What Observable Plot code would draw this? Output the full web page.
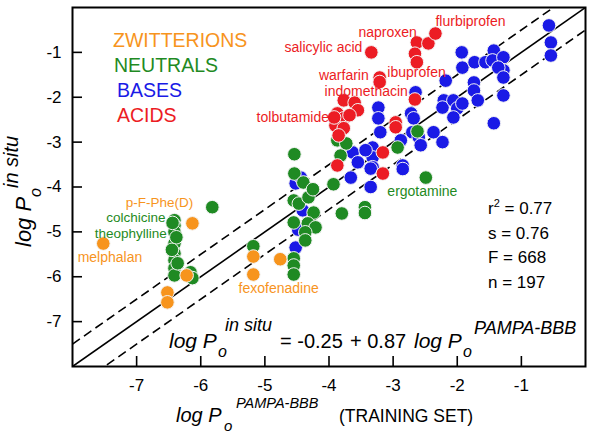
<!DOCTYPE html>
<html>
<head>
<meta charset="utf-8">
<script src="https://cdn.jsdelivr.net/npm/d3@7"></script>
<script src="https://cdn.jsdelivr.net/npm/@observablehq/plot@0.6"></script>
<style>
  html, body { margin: 0; padding: 0; background: #fff; }
</style>
</head>
<body>
<div id="chart"></div>
<script>
const FONT = "'Liberation Sans', Arial, Helvetica, sans-serif";

// ---- data (log Po PAMPA-BBB, log Po in situ) ----
const zwitterX = [-7.52, -6.13, -6.22, -6.52, -6.52, -5.18, -5.18, -4.76];
const zwitterY = [-5.26, -4.81, -5.97, -6.35, -6.57, -5.55, -5.95, -5.61];

const neutralX = [-6.41, -6.41, -6.41, -6.41, -6.41, -6.41, -6.41, -6.41, -6.38, -6.45, -6.36, -6.44,
  -6.16, -6.13, -5.82, -5.18,
  -4.54, -4.54, -4.55, -4.47, -4.32, -4.24, -4.55, -4.33, -4.21, -4.37, -4.37, -4.55, -4.55, -4.55, -4.40, -4.25,
  -3.93, -3.80, -3.44, -3.44, -3.87, -3.73, -3.82, -2.62, -2.93, -2.49];
const neutralY = [-4.74, -4.86, -5.00, -5.26, -5.48, -5.63, -5.81, -5.97, -5.12, -5.40, -5.70, -4.80,
  -5.90, -6.03, -4.45, -5.32,
  -3.27, -3.70, -4.30, -4.37, -4.23, -4.57, -4.79, -4.81, -4.90, -5.01, -5.19, -5.59, -5.75, -5.95, -3.90, -4.05,
  -3.94, -4.59, -4.45, -4.58, -2.96, -3.03, -3.30, -2.76, -3.12, -3.79];

const baseX = [-0.57, -0.54, -0.54, -1.93, -1.92, -1.73, -1.56, -1.43, -1.45, -1.28, -1.28, -1.36, -1.28,
  -2.18, -1.74, -1.74, -1.68, -1.28, -1.43, -2.65, -3.23, -3.23, -3.20, -2.72, -2.68, -2.70, -2.60, -2.57,
  -2.37, -2.23, -2.21, -2.23, -2.06, -2.00, -2.06, -1.92, -2.88, -3.32, -3.32, -3.32, -3.63, -3.43, -2.85,
  -2.85, -3.66, -3.35, -3.35, -4.52, -4.41, -4.52, -4.44, -4.48, -3.55];
const baseY = [-0.40, -0.78, -1.07, -1.00, -1.34, -1.22, -1.22, -0.96, -1.18, -1.11, -1.40, -1.34, -1.56,
  -1.63, -1.67, -1.85, -2.07, -1.96, -2.58, -1.89, -2.23, -2.47, -2.78, -2.36, -2.47, -2.78, -2.89, -3.07,
  -2.78, -3.00, -2.07, -2.23, -2.07, -2.25, -2.45, -2.14, -2.96, -3.12, -3.34, -3.56, -3.23, -3.18, -3.52,
  -3.60, -3.79, -3.59, -4.00, -3.92, -4.52, -5.35, -3.79, -4.95, -3.45];

const acidX = [-3.77, -3.60, -3.87, -3.77, -3.55, -3.90, -3.77, -3.92, -3.68, -3.85,
  -3.34, -2.63, -2.45, -2.34, -2.66, -2.63, -3.21, -3.21, -2.66, -2.96, -2.96, -3.16, -3.16, -3.87];
const acidY = [-2.07, -2.12, -2.36, -2.47, -2.29, -2.63, -2.69, -2.45, -2.40, -2.85,
  -1.00, -0.78, -0.80, -0.58, -1.03, -1.22, -1.56, -1.66, -2.05, -2.56, -2.67, -3.23, -3.70, -3.52];

const xTicks = [-7, -6, -5, -4, -3, -2, -1];
const yTicks = [-7, -6, -5, -4, -3, -2, -1];

const classNames = ["ZWITTERIONS", "NEUTRALS", "BASES", "ACIDS"];
const classColors = ["#f7941d", "#1f8a23", "#1a1ae6", "#ec1c24"];

// compound labels
const labelText = ["salicylic acid", "naproxen", "flurbiprofen", "warfarin", "ibuprofen", "indomethacin",
  "tolbutamide", "ergotamine", "p-F-Phe(D)", "colchicine", "theophylline", "melphalan", "fexofenadine"];
const labelClass = [3, 3, 3, 3, 3, 3, 3, 1, 0, 1, 1, 0, 0];
const labelX = [-3.48, -3.54, -2.34, -3.38, -3.09, -2.77, -4.00, -3.09, -7.17, -6.55, -6.53, -7.92, -5.41];
const labelY = [-0.89, -0.56, -0.31, -1.51, -1.45, -1.87, -2.45, -4.10, -4.34, -4.69, -5.04, -5.57, -6.26];
const labelAnchor = ["end", "start", "start", "end", "start", "end", "end", "start", "start", "end", "end", "start", "start"];
const labelSize = [14, 14, 14, 14, 14, 14, 14, 14, 13.5, 13.5, 13.5, 14, 14];

const stats = [["r", "2", " = 0.77"], ["s = 0.76"], ["F = 668"], ["n = 197"]];
const fitOffsets = [0, 0.5, -0.5];

// ---- build tables ----
const pts = (xs, ys) => xs.map((x, i) => ({x, y: ys[i]}));
const zw = pts(zwitterX, zwitterY), ne = pts(neutralX, neutralY), ba = pts(baseX, baseY), ac = pts(acidX, acidY);
const labels = labelText.map((t, i) => ({text: t, x: labelX[i], y: labelY[i], color: classColors[labelClass[i]], anchor: labelAnchor[i], size: labelSize[i]}));
const lines = fitOffsets.map(o => ({o}));

const dotOpts = (c) => ({x: "x", y: "y", r: 6.8, fill: c, stroke: "#f4f4f4", strokeWidth: 1});
const labelMark = (anchor, size) => Plot.text(labels.filter(d => d.anchor === anchor && d.size === size),
  {x: "x", y: "y", text: "text", fill: "color", textAnchor: anchor, fontSize: size});

const plot = Plot.plot({
  width: 600, height: 442,
  marginLeft: 72, marginRight: 15, marginTop: 7, marginBottom: 76,
  x: {domain: [-8, 0]},
  y: {domain: [-8, 0]},
  color: {type: "identity"},
  style: {fontFamily: FONT, fontSize: "17px", background: "#fff", color: "#000"},
  marks: [
    Plot.link(lines.filter(d => d.o === 0), {x1: -8, y1: d => -8 + d.o, x2: 0, y2: d => d.o, stroke: "#000", strokeWidth: 1.6, clip: true}),
    Plot.link(lines.filter(d => d.o !== 0), {x1: -8, y1: d => -8 + d.o, x2: 0, y2: d => d.o, stroke: "#000", strokeWidth: 1.6, strokeDasharray: "9,5", clip: true}),
    Plot.dot(ba, dotOpts(classColors[2])),
    Plot.dot(ne, dotOpts(classColors[1])),
    Plot.dot(ac, dotOpts(classColors[3])),
    Plot.dot(zw, dotOpts(classColors[0])),
    labelMark("start", 14),
    labelMark("end", 14),
    labelMark("start", 13.5),
    labelMark("end", 13.5),
    Plot.tickX(xTicks, {x: d => d, insetTop: 349, stroke: "#000", strokeWidth: 1.6}),
    Plot.tickY(yTicks, {y: d => d, insetRight: 503, stroke: "#000", strokeWidth: 1.6}),
    Plot.axisX(xTicks, {tickSize: 0, tickPadding: 12, tickFormat: d => String(d), fontSize: 17, label: null}),
    Plot.axisY(yTicks, {tickSize: 0, tickPadding: 11, tickFormat: d => String(d), fontSize: 17, label: null}),
    Plot.frame({stroke: "#000", strokeWidth: 2})
  ]
});

document.getElementById("chart").appendChild(plot);

// ---- annotations ----
const svg = d3.select(plot);
function txt(parent, s, x, y, size, opts = {}) {
  return parent.append("text")
    .attr("x", x).attr("y", y)
    .attr("font-family", FONT)
    .attr("font-size", size)
    .attr("font-style", opts.italic ? "italic" : "normal")
    .attr("fill", opts.fill || "#000")
    .attr("text-anchor", opts.anchor || "start")
    .text(s);
}

// legend
const legendPos = [[113, 47], [114, 72], [117, 97], [117, 122]];
classNames.forEach((n, i) => txt(svg, n, legendPos[i][0], legendPos[i][1], 19.5, {fill: classColors[i]}));

// stats
const statBase = [214, 239, 263, 288];
stats.forEach((s, i) => {
  const t = txt(svg, s[0], 488, statBase[i], 17);
  if (s.length > 1) {
    t.append("tspan").attr("font-size", 11).attr("dy", -7).text(s[1]);
    t.append("tspan").attr("dy", 7).text(s[2]);
  }
});

// equation
txt(svg, "log P", 169, 348, 21, {italic: true});
txt(svg, "o", 218, 357, 16, {italic: true});
txt(svg, "in situ", 225, 331, 18, {italic: true});
txt(svg, "= -0.25", 280, 348, 20);
txt(svg, "+ 0.87", 350, 348, 20);
txt(svg, "log P", 414, 348, 21, {italic: true});
txt(svg, "o", 463, 357, 16, {italic: true});
txt(svg, "PAMPA-BBB", 474, 334, 18, {italic: true});

// x title
txt(svg, "log P", 176, 422, 20, {italic: true});
txt(svg, "o", 224, 431, 15, {italic: true});
txt(svg, "PAMPA-BBB", 236, 408, 14.5, {italic: true});
txt(svg, "(TRAINING SET)", 339, 422, 17.5);

// y title (rotated)
const gy = svg.append("g").attr("transform", "rotate(-90)");
txt(gy, "log P", -247, 31, 22, {italic: true});
txt(gy, "o", -197, 41, 16, {italic: true});
txt(gy, "in situ", -188, 18, 20, {italic: true});
</script>
</body>
</html>
